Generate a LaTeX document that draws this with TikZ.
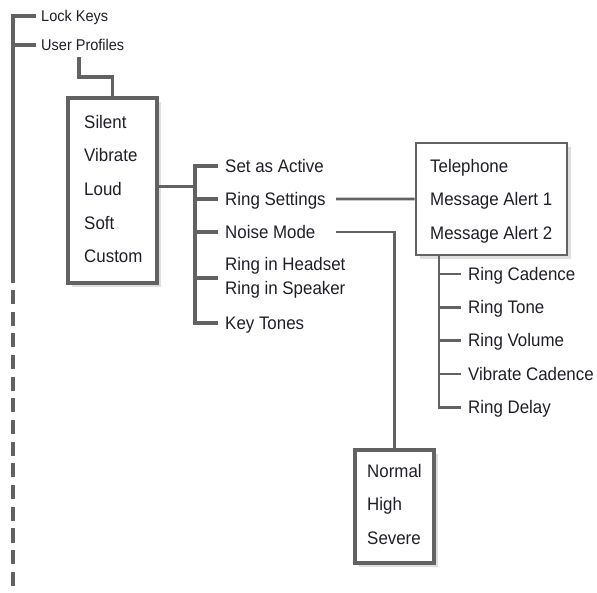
\documentclass[tikz,border=0pt]{standalone}
\usepackage{fontspec}
\setmainfont[FakeStretch=0.93]{Liberation Sans}
\usepackage{tikz}
\usetikzlibrary{positioning, shadows}

\definecolor{linegray}{RGB}{98,98,98}
\definecolor{shadegray}{RGB}{222,222,222}
\definecolor{inkblack}{RGB}{30,30,40}

\begin{document}
\begin{tikzpicture}[
    x=0.03cm, y=-0.03cm,
    itemtext/.style={inner sep=0pt, text=inkblack, font=\fontsize{15.5}{20.5}\selectfont},
    item/.style={itemtext, anchor=west, text height=10.5pt, text depth=0pt},
    topitem/.style={item, font=\fontsize{13.3}{15}\selectfont, text height=9.5pt},
    menubox/.style={rectangle, draw=linegray, line width=2.8pt, fill=white, drop shadow={shadow xshift=3.5pt, shadow yshift=-3.5pt, fill=shadegray, opacity=1}},
    branch/.style={draw=linegray, line width=3pt},
    link/.style={draw=linegray, line width=2.3pt},
]
\useasboundingbox (0,0) rectangle (597,592);

% Top level: trunk
\node[topitem] (lockkeys) at (41,16) {Lock Keys};
\node[topitem, below=0.87cm of lockkeys.west, anchor=west] (userprof) {User Profiles};

\coordinate (trunkend) at (13,283);
\coordinate (trunkfoot) at (13,592);
\draw[branch] ([xshift=-4pt]lockkeys.west) -| (trunkend);
\draw[branch] ([xshift=-4pt]userprof.west) -- (userprof.west -| trunkend);
\draw[branch, dash pattern=on 12pt off 6.5pt] ([yshift=-6pt]trunkend) -- (trunkfoot);

% Profiles box
\node[menubox, line width=3.3pt, minimum width=2.67cm, minimum height=5.55cm] (profbox) at (112.5,190.5) {};
\node[item] (silent) at (84,122) {Silent};
\node[item, below=1.01cm of silent.west, anchor=west] (vibrate) {Vibrate};
\node[item, below=1.01cm of vibrate.west, anchor=west] (loud) {Loud};
\node[item, below=1.01cm of loud.west, anchor=west] (soft) {Soft};
\node[item, below=1.01cm of soft.west, anchor=west] (custom) {Custom};
\draw[branch] (userprof.south west) ++(38,6) -- ++(0,20) -| (profbox.north);

% Profile menu
\coordinate (mainbar) at (195,0);
\node[item] (setactive) at (225,166) {Set as Active};
\node[item, below=0.99cm of setactive.west, anchor=west] (ringset) {Ring Settings};
\node[item, below=0.99cm of ringset.west, anchor=west] (noise) {Noise Mode};
\node[itemtext, anchor=west, align=left] (ringhead) at (225,278) {Ring in Headset\\Ring in Speaker};
\node[item] (keytones) at (225,323) {Key Tones};

\draw[branch] ([yshift=3.4pt]profbox.east) -- ([yshift=3.4pt]profbox.east -| mainbar);
\draw[branch] ([xshift=-6pt]setactive.west) -| (keytones.west -| mainbar) -- ([xshift=-6pt]keytones.west);
\foreach \n in {ringset, noise, ringhead}
    \draw[branch] ([xshift=-6pt]\n.west) -- (\n.west -| mainbar);

% Ring settings box
\coordinate (linestart) at (336,0);
\node[menubox, line width=2.3pt, minimum width=4.53cm, minimum height=3.36cm] (telebox) at (491.5,199) {};
\node[item] (telephone) at (430,166) {Telephone};
\node[item, below=0.99cm of telephone.west, anchor=west] (msgalert1) {Message Alert 1};
\node[item, below=1.02cm of msgalert1.west, anchor=west] (msgalert2) {Message Alert 2};
\draw[link] (ringset.east -| linestart) -- (telebox.west);

% Ring options
\coordinate (subbar) at (439,0);
\node[item] (ringcad) at (468,274) {Ring Cadence};
\node[item, below=1cm of ringcad.west, anchor=west] (ringtone) {Ring Tone};
\node[item, below=1cm of ringtone.west, anchor=west] (ringvol) {Ring Volume};
\node[item, below=1cm of ringvol.west, anchor=west] (vibcad) {Vibrate Cadence};
\node[item, below=1cm of vibcad.west, anchor=west] (ringdelay) {Ring Delay};
\draw[link] (telebox.south -| subbar) |- ([xshift=-6pt]ringdelay.west);
\foreach \n in {ringcad, ringtone, ringvol, vibcad}
    \draw[link] ([xshift=-6pt]\n.west) -- (\n.west -| subbar);

% Noise mode box
\node[menubox, minimum width=2.37cm, minimum height=3.39cm] (normbox) at (394.5,506.5) {};
\node[item] (normal) at (367,471) {Normal};
\node[item, below=1cm of normal.west, anchor=west] (high) {High};
\node[item, below=1.01cm of high.west, anchor=west] (severe) {Severe};
\draw[link] (noise.east -| linestart) -| (normbox.north);
\end{tikzpicture}
\end{document}
